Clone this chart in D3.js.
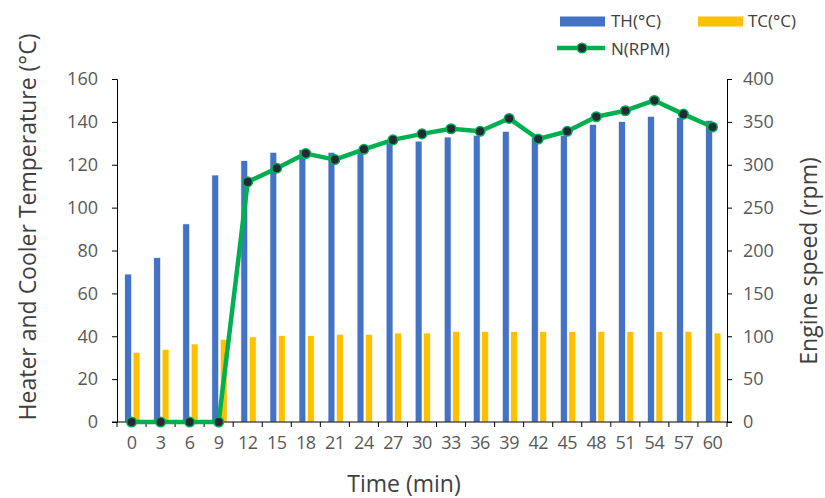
<!DOCTYPE html>
<html>
<head>
<meta charset="utf-8">
<script src="https://cdn.jsdelivr.net/npm/d3@7"></script>
<style>
  body { margin: 0; background: #fff; }
  svg { display: block; font-family: "Open Sans", "Noto Sans", sans-serif; }
</style>
</head>
<body>
<script>
const width = 825;
const height = 498;
const margin = { top: 79, right: 98, bottom: 76, left: 117 };

// data
const times = [0, 3, 6, 9, 12, 15, 18, 21, 24, 27, 30, 33, 36, 39, 42, 45, 48, 51, 54, 57, 60];
const thValues = [69, 76.7, 92.4, 115.2, 121.9, 125.8, 127, 125.8, 126.5, 130, 131, 132.9, 133.7, 135.6, 132.8, 133.8, 138.8, 140.1, 142.6, 142.1, 140.7];
const tcValues = [32.5, 33.8, 36.4, 38.5, 39.7, 40.3, 40.3, 40.9, 40.9, 41.5, 41.5, 42.2, 42.2, 42.2, 42.2, 42.2, 42.2, 42.2, 42.2, 42.2, 41.5];
const rpmValues = [0, 0, 0, 0, 280, 296, 313, 306, 318, 329, 336, 342, 339, 354, 330, 339, 356, 363, 375, 359, 344];
const leftTicks = [0, 20, 40, 60, 80, 100, 120, 140, 160];
const rightTicks = [0, 50, 100, 150, 200, 250, 300, 350, 400];

const thColor = "#4472C4";
const tcColor = "#FFC000";
const lineColor = "#00B050";
const labelColor = "#595959";
const titleColor = "#404040";

const svg = d3
  .select("body")
  .append("svg")
  .attr("width", width)
  .attr("height", height);

const x = d3
  .scaleBand()
  .domain(times)
  .range([margin.left, width - margin.right])
  .padding(0);

const yLeft = d3
  .scaleLinear()
  .domain([0, 160])
  .range([height - margin.bottom, margin.top]);

const yRight = d3
  .scaleLinear()
  .domain([0, 400])
  .range([height - margin.bottom, margin.top]);

const cx = (t) => x(t) + x.bandwidth() / 2;
const barW = 6.8;

// bars
svg
  .append("g")
  .selectAll("rect")
  .data(times)
  .enter()
  .append("rect")
  .attr("x", (d) => cx(d) - barW)
  .attr("y", (d, i) => yLeft(thValues[i]))
  .attr("width", barW)
  .attr("height", (d, i) => yLeft(0) - yLeft(thValues[i]))
  .attr("fill", thColor)
  .attr("stroke", "#fff")
  .attr("stroke-width", 0.6);

svg
  .append("g")
  .selectAll("rect")
  .data(times)
  .enter()
  .append("rect")
  .attr("x", (d) => cx(d) + 1.6)
  .attr("y", (d, i) => yLeft(tcValues[i]))
  .attr("width", barW)
  .attr("height", (d, i) => yLeft(0) - yLeft(tcValues[i]))
  .attr("fill", tcColor)
  .attr("stroke", "#fff")
  .attr("stroke-width", 0.6);

// axes
const xAxis = svg
  .append("g")
  .attr("transform", `translate(0, ${height - margin.bottom})`)
  .call(d3.axisBottom(x).tickSize(0).tickPadding(14));

xAxis.select(".domain").remove();
xAxis
  .append("line")
  .attr("x1", margin.left - 5)
  .attr("x2", width - margin.right + 5)
  .attr("stroke", "#000");
xAxis
  .selectAll(".sep")
  .data(times.concat(["end"]))
  .enter()
  .append("line")
  .attr("x1", (d, i) => margin.left + i * x.bandwidth())
  .attr("x2", (d, i) => margin.left + i * x.bandwidth())
  .attr("y1", 0)
  .attr("y2", 5)
  .attr("stroke", "#000");

const leftAxis = svg
  .append("g")
  .attr("transform", `translate(${margin.left}, 0)`)
  .call(d3.axisLeft(yLeft).tickValues(leftTicks).tickSizeOuter(0).tickSize(5).tickPadding(14));

const rightAxis = svg
  .append("g")
  .attr("transform", `translate(${width - margin.right}, 0)`)
  .call(d3.axisRight(yRight).tickValues(rightTicks).tickSizeOuter(0).tickSize(5).tickPadding(11));

[xAxis, leftAxis, rightAxis].forEach((g) => {
  g.selectAll(".tick line").attr("stroke", "#000");
  g.select(".domain").attr("stroke", "#000");
  g.selectAll("text")
    .attr("fill", labelColor)
    .style("font-size", "18px")
    .style("font-family", "'Open Sans', sans-serif");
});
xAxis.selectAll(".tick text").attr("dy", "0.71em").style("letter-spacing", "-0.5px");

// rpm line
const line = d3
  .line()
  .x((d, i) => cx(times[i]))
  .y((d) => yRight(d));

svg
  .append("path")
  .datum(rpmValues)
  .attr("d", line)
  .attr("fill", "none")
  .attr("stroke", lineColor)
  .attr("stroke-width", 4.5)
  .attr("stroke-linejoin", "round");

svg
  .append("g")
  .selectAll("circle")
  .data(rpmValues)
  .enter()
  .append("circle")
  .attr("cx", (d, i) => cx(times[i]))
  .attr("cy", (d) => yRight(d))
  .attr("r", 4.8)
  .attr("fill", "#232a35")
  .attr("stroke", lineColor)
  .attr("stroke-width", 1.5);

// axis titles
svg
  .append("text")
  .attr("x", 404)
  .attr("y", 492)
  .attr("text-anchor", "middle")
  .attr("fill", titleColor)
  .style("font-size", "23px")
  .text("Time (min)");

svg
  .append("text")
  .attr("transform", "translate(36, 227) rotate(-90)")
  .attr("text-anchor", "middle")
  .attr("fill", titleColor)
  .style("font-size", "23px")
  .text("Heater and Cooler Temperature (°C)");

svg
  .append("text")
  .attr("transform", "translate(817, 261) rotate(-90)")
  .attr("text-anchor", "middle")
  .attr("fill", titleColor)
  .style("font-size", "23px")
  .text("Engine speed (rpm)");

// legend
const legend = svg.append("g").style("font-size", "17px").attr("fill", titleColor);

legend.append("rect").attr("x", 560).attr("y", 16.5).attr("width", 45).attr("height", 10).attr("fill", thColor);
legend.append("text").attr("x", 611).attr("y", 27).text("TH(°C)");

legend.append("rect").attr("x", 698).attr("y", 16.5).attr("width", 45).attr("height", 10).attr("fill", tcColor);
legend.append("text").attr("x", 748).attr("y", 27).text("TC(°C)");

legend
  .append("line")
  .attr("x1", 557)
  .attr("x2", 605)
  .attr("y1", 48)
  .attr("y2", 48)
  .attr("stroke", lineColor)
  .attr("stroke-width", 4.5);
legend
  .append("circle")
  .attr("cx", 582)
  .attr("cy", 48)
  .attr("r", 4.8)
  .attr("fill", "#232a35")
  .attr("stroke", lineColor)
  .attr("stroke-width", 1.5);
legend.append("text").attr("x", 611).attr("y", 55).text("N(RPM)");
</script>
</body>
</html>
